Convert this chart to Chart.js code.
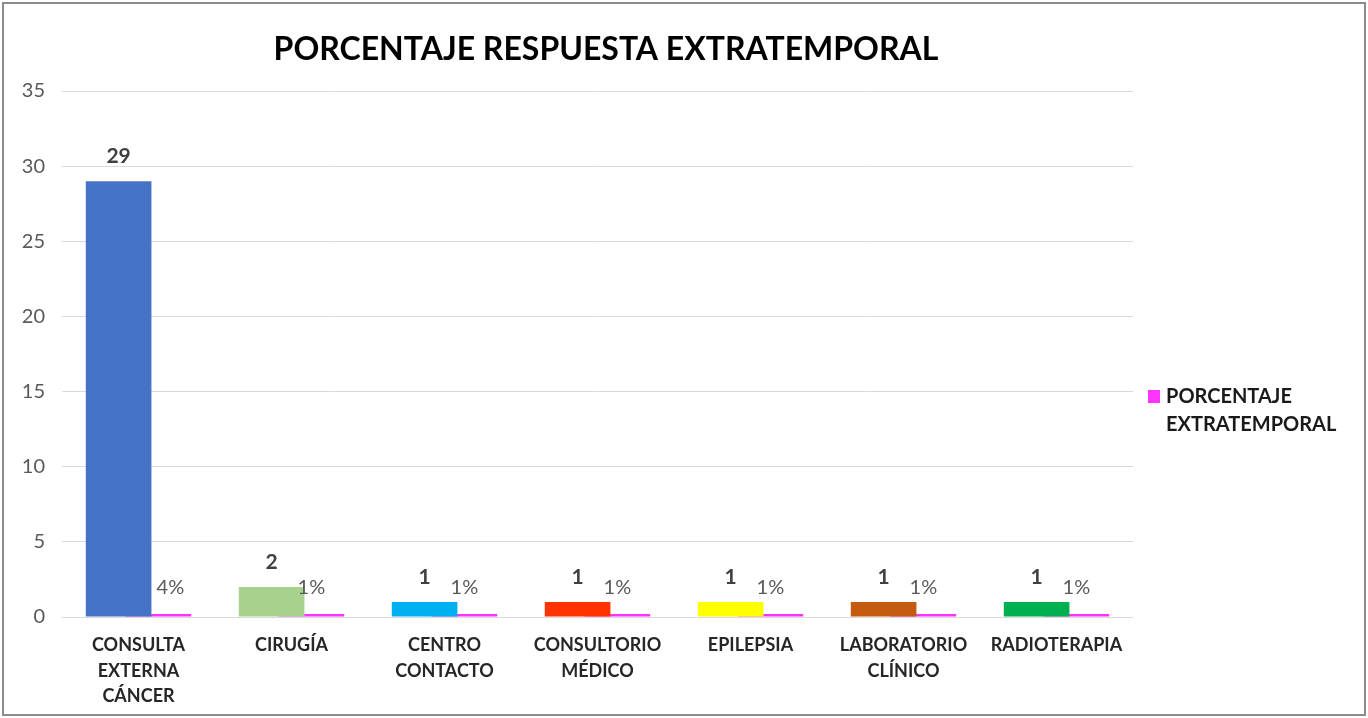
<!DOCTYPE html>
<html>
<head>
<meta charset="utf-8">
<script src="https://cdn.jsdelivr.net/npm/chart.js@4/dist/chart.umd.min.js"></script>
<style>
  html, body { margin: 0; padding: 0; background: #fff; }
  #wrap { position: relative; width: 1368px; height: 718px; }
  #frame { position: absolute; left: 2px; top: 2px; width: 1360px; height: 710px; border: 2px solid #8c8c8c; pointer-events: none; }
</style>
</head>
<body>
<div id="wrap">
  <canvas id="chart" width="1368" height="718"></canvas>
  <div id="frame"></div>
</div>
<script>
// data
const chartTitle = 'PORCENTAJE RESPUESTA EXTRATEMPORAL';
const categories = [
    ['CONSULTA', 'EXTERNA', 'CÁNCER'],
    ['CIRUGÍA'],
    ['CENTRO', 'CONTACTO'],
    ['CONSULTORIO', 'MÉDICO'],
    ['EPILEPSIA'],
    ['LABORATORIO', 'CLÍNICO'],
    ['RADIOTERAPIA']
];
const counts = [29, 2, 1, 1, 1, 1, 1];
const percents = [0.04, 0.01, 0.01, 0.01, 0.01, 0.01, 0.01];
const barColors = ['#4472C4', '#A9D18E', '#00B0F0', '#FF3300', '#FFFF00', '#C55A11', '#00B050'];
const percentColor = '#FF33FF';
const yTicks = [0, 5, 10, 15, 20, 25, 30, 35];

const FONT = 'Lato, "Open Sans", sans-serif';

// title, value labels and legend drawn by hand
const labelPlugin = {
    id: 'labels',
    afterDatasetsDraw(chart) {
        let ctx = chart.ctx;
        ctx.save();

        // title
        ctx.textAlign = 'center';
        ctx.textBaseline = 'middle';
        ctx.font = 'bold 32px ' + FONT;
        ctx.fillStyle = '#000';
        ctx.fillText(chartTitle, 606, 50);

        ctx.textBaseline = 'bottom';
        let m0 = chart.getDatasetMeta(0);
        ctx.font = 'bold 21px ' + FONT;
        ctx.fillStyle = '#404040';
        m0.data.forEach((bar, i) => {
            ctx.fillText(String(counts[i]), bar.x, bar.y - 14);
        });

        let m1 = chart.getDatasetMeta(1);
        ctx.font = '20px ' + FONT;
        ctx.fillStyle = '#595959';
        m1.data.forEach((bar, i) => {
            let dx = i === 0 ? 12 : 0;
            ctx.fillText(Math.round(percents[i] * 100) + '%', bar.x + dx, bar.y - 16);
        });

        // legend (only the percentage series)
        let ds = chart.data.datasets[1];
        ctx.fillStyle = ds.backgroundColor;
        ctx.fillRect(1148, 390, 12, 13);
        ctx.textAlign = 'left';
        ctx.textBaseline = 'middle';
        ctx.font = 'bold 20px ' + FONT;
        ctx.fillStyle = '#1a1a1a';
        ds.label.split(' ').forEach((w, i) => {
            ctx.fillText(w, 1166, 397 + i * 28);
        });
        ctx.restore();
    }
};

new Chart(document.getElementById('chart').getContext('2d'), {
    type: 'bar',
    data: {
        labels: categories,
        datasets: [{
            label: 'CANTIDAD',
            data: counts,
            backgroundColor: barColors,
            categoryPercentage: 0.52,
            barPercentage: 1.65
        }, {
            label: 'PORCENTAJE EXTRATEMPORAL',
            data: percents,
            backgroundColor: percentColor,
            minBarLength: 3,
            categoryPercentage: 0.52,
            barPercentage: 1.65
        }]
    },
    options: {
        responsive: false,
        animation: false,
        layout: { padding: { left: 0, right: 235, top: 91, bottom: 0 } },
        plugins: {
            legend: { display: false },
            tooltip: { enabled: false },
            title: { display: false }
        },
        scales: {
            x: {
                afterFit(scale) { scale.height = 101; },
                grid: { display: false },
                border: { display: false },
                ticks: {
                    color: '#262626',
                    font: { family: FONT, size: 18, weight: 'bold', lineHeight: 1.4 },
                    maxRotation: 0,
                    autoSkip: false,
                    padding: 8
                }
            },
            y: {
                min: 0,
                max: 35,
                afterFit(scale) { scale.width = 62; },
                afterBuildTicks(scale) { scale.ticks = yTicks.map(v => ({ value: v })); },
                grid: { color: '#d9d9d9', lineWidth: 1, drawTicks: false },
                border: { display: false },
                ticks: {
                    color: '#595959',
                    font: { family: FONT, size: 20 },
                    padding: 17
                }
            }
        }
    },
    plugins: [labelPlugin]
});
</script>
</body>
</html>
